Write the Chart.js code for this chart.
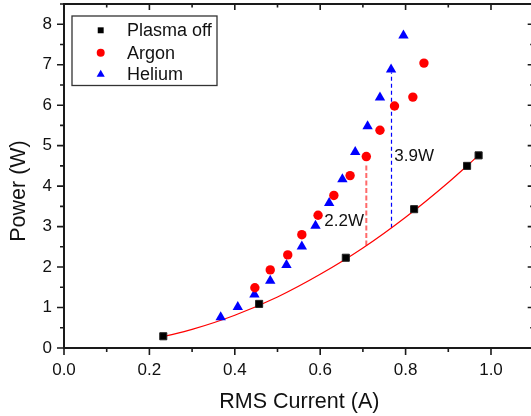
<!DOCTYPE html>
<html>
<head>
<meta charset="utf-8">
<script src="https://cdn.jsdelivr.net/npm/chart.js@4/dist/chart.umd.min.js"></script>
<style>
  html, body { margin: 0; padding: 0; background: #fff; }
  #wrap { width: 531px; height: 416px; }
</style>
</head>
<body>
<div id="wrap"><canvas id="c" width="531" height="416"></canvas></div>
<script>
// Measured power vs RMS current
const currentOff = [0.2325, 0.457, 0.660, 0.820, 0.944, 0.971];
const powerOff   = [0.29, 1.09, 2.23, 3.43, 4.50, 4.76];

const currentAr = [0.447, 0.483, 0.524, 0.557, 0.595, 0.632, 0.670, 0.708, 0.740, 0.774, 0.817, 0.843];
const powerAr   = [1.49, 1.93, 2.30, 2.80, 3.28, 3.77, 4.26, 4.73, 5.38, 5.98, 6.20, 7.04];

const currentHe = [0.367, 0.407, 0.446, 0.483, 0.521, 0.557, 0.589, 0.621, 0.652, 0.682, 0.711, 0.740, 0.766, 0.795];
const powerHe   = [0.76, 1.01, 1.32, 1.66, 2.05, 2.51, 3.02, 3.58, 4.17, 4.84, 5.48, 6.19, 6.88, 7.72];

// Fitted curve through the plasma-off points
const fitCurrent = [0.2325, 0.3, 0.4, 0.5, 0.6, 0.7, 0.8, 0.9, 0.971];
const fitPower   = [0.28, 0.46, 0.81, 1.26, 1.82, 2.47, 3.23, 4.09, 4.76];

// Extra power markers (vertical gaps above the fit)
const gapCurrent = [0.708, 0.767];
const gapLow     = [2.53, 2.97];
const gapHigh    = [4.53, 6.81];
const gapText    = ['2.2W', '3.9W'];

const xTitle = 'RMS Current (A)';
const yTitle = 'Power (W)';

// The x axis runs to 1.1; the visible window stops a little short of it
const X_FRAME_END = 1.1;
const X_VIEW_MAX = 1.0937;

const FONT = "'Liberation Sans', Arial, Helvetica, sans-serif";

const pts = (xs, ys) => xs.map((x, i) => ({ x, y: ys[i] }));

Chart.defaults.font.family = FONT;
Chart.defaults.color = '#000';

// Frame, inward/outward ticks, axis titles
const framePlugin = {
  id: 'frame',
  afterDraw(chart) {
    const { ctx, chartArea: a, scales: { x, y } } = chart;
    const right = x.getPixelForValue(X_FRAME_END);
    ctx.save();
    ctx.strokeStyle = '#1a1a1a';
    ctx.lineWidth = 2;
    ctx.beginPath();
    ctx.moveTo(a.left, a.top); ctx.lineTo(right, a.top);
    ctx.moveTo(a.left, a.bottom); ctx.lineTo(right, a.bottom);
    ctx.moveTo(a.left, a.top - 1); ctx.lineTo(a.left, a.bottom + 1);
    ctx.moveTo(right, a.top - 1); ctx.lineTo(right, a.bottom + 1);
    ctx.stroke();

    ctx.lineWidth = 1.6;
    ctx.beginPath();
    for (let i = 0; i <= Math.round(X_FRAME_END * 10); i++) {
      const px = x.getPixelForValue(i / 10);
      const major = i % 2 === 0;
      const outL = major ? 7 : 4, inL = major ? 6 : 3.5;
      ctx.moveTo(px, a.bottom); ctx.lineTo(px, a.bottom + outL);
      ctx.moveTo(px, a.top); ctx.lineTo(px, a.top + inL);
    }
    y.ticks.forEach(t => {
      const py = y.getPixelForValue(t.value);
      const major = Number.isInteger(t.value);
      const outL = major ? 7 : 4, inL = major ? 6 : 3.5;
      ctx.moveTo(a.left, py); ctx.lineTo(a.left - outL, py);
      ctx.moveTo(right, py); ctx.lineTo(right - inL, py);
    });
    ctx.stroke();

    ctx.fillStyle = '#111';
    ctx.font = '21.5px ' + FONT;
    ctx.textAlign = 'center';
    ctx.textBaseline = 'alphabetic';
    ctx.fillText(xTitle, (a.left + right) / 2 + 0.5, 407.5);
    ctx.translate(25, 191);
    ctx.rotate(-Math.PI / 2);
    ctx.fillText(yTitle, 0, 0);
    ctx.restore();
  }
};

// Labels for the gap markers
const gapLabelPlugin = {
  id: 'gapLabels',
  afterDatasetsDraw(chart, args, opts) {
    const { ctx, scales: { x, y } } = chart;
    ctx.save();
    ctx.fillStyle = '#111';
    ctx.font = '17px ' + FONT;
    ctx.textAlign = 'left';
    ctx.textBaseline = 'middle';
    opts.anchors.forEach((p, i) => {
      ctx.fillText(gapText[i], x.getPixelForValue(p.x), y.getPixelForValue(p.y));
    });
    ctx.restore();
  }
};

// Boxed legend inside the plot
const boxLegendPlugin = {
  id: 'boxLegend',
  afterDraw(chart, args, opts) {
    const { ctx } = chart;
    const b = opts.box;
    ctx.save();
    ctx.fillStyle = '#fff';
    ctx.fillRect(b.x, b.y, b.w, b.h);
    ctx.strokeStyle = '#333';
    ctx.lineWidth = 1.3;
    ctx.strokeRect(b.x, b.y, b.w, b.h);
    opts.items.forEach((it, i) => {
      const ds = chart.data.datasets[it.dataset];
      const cy = opts.rows[i];
      ctx.fillStyle = ds.backgroundColor;
      ctx.strokeStyle = ds.borderColor;
      Chart.helpers.drawPoint(ctx, { pointStyle: ds.pointStyle, radius: it.radius, borderWidth: 0, rotation: 0 }, opts.markerX, cy);
      ctx.fillStyle = '#111';
      ctx.font = '18px ' + FONT;
      ctx.textAlign = 'left';
      ctx.textBaseline = 'middle';
      ctx.fillText(ds.label, opts.textX, cy + 1);
    });
    ctx.restore();
  }
};

const datasets = [
  {
    label: 'Plasma off', data: pts(currentOff, powerOff),
    pointStyle: 'rect', pointRadius: 5, pointBorderWidth: 1,
    backgroundColor: '#000', borderColor: '#222', order: 1
  },
  {
    label: 'Argon', data: pts(currentAr, powerAr),
    pointStyle: 'circle', pointRadius: 4.7, pointBorderWidth: 0,
    backgroundColor: '#ff0000', borderColor: '#ff0000', order: 2
  },
  {
    label: 'Helium', data: pts(currentHe, powerHe),
    pointStyle: 'triangle', pointRadius: 6, pointBorderWidth: 0,
    backgroundColor: '#0000ff', borderColor: '#0000ff', order: 3
  },
  {
    label: 'fit', data: pts(fitCurrent, fitPower), showLine: true,
    borderColor: '#ff0000', borderWidth: 1.2, pointRadius: 0,
    cubicInterpolationMode: 'monotone', order: 4
  },
  {
    label: 'gapAr', data: [{ x: gapCurrent[0], y: gapLow[0] }, { x: gapCurrent[0], y: gapHigh[0] }],
    showLine: true, borderColor: '#ff6a6a', borderWidth: 2, borderDash: [5, 2.5],
    pointRadius: 0, order: 5
  },
  {
    label: 'gapHe', data: [{ x: gapCurrent[1], y: gapLow[1] }, { x: gapCurrent[1], y: gapHigh[1] }],
    showLine: true, borderColor: '#0000ff', borderWidth: 1.2, borderDash: [4, 3],
    pointRadius: 0, order: 6
  }
];

new Chart(document.getElementById('c'), {
  type: 'scatter',
  data: { datasets },
  plugins: [framePlugin, gapLabelPlugin, boxLegendPlugin],
  options: {
    responsive: false,
    animation: false,
    devicePixelRatio: 1,
    layout: { autoPadding: false, padding: { left: 0, top: 4, right: 0, bottom: 0 } },
    plugins: {
      legend: { display: false },
      tooltip: { enabled: false },
      gapLabels: { anchors: [{ x: 0.6096, y: 3.14 }, { x: 0.7735, y: 4.73 }] },
      boxLegend: {
        box: { x: 72, y: 16, w: 145, h: 69.5 },
        markerX: 100.7, textX: 127, rows: [30.3, 52.7, 74.5],
        items: [{ dataset: 0, radius: 4.2 }, { dataset: 1, radius: 4 }, { dataset: 2, radius: 4.7 }]
      }
    },
    scales: {
      x: {
        type: 'linear', min: 0, max: X_VIEW_MAX,
        grid: { display: false, drawTicks: false },
        border: { display: false },
        afterFit: s => { s.height = 68; s.paddingRight = 0; s.paddingLeft = 0; },
        ticks: {
          stepSize: 0.1, autoSkip: false, maxRotation: 0, padding: 12, includeBounds: false,
          font: { size: 17 }, color: '#111',
          callback: v => (Math.round(v * 10) % 2 === 0 ? v.toFixed(1) : '')
        }
      },
      y: {
        type: 'linear', min: 0, max: 8.5,
        grid: { display: false, drawTicks: false },
        border: { display: false },
        afterFit: s => { s.width = 64; s.paddingTop = 0; s.paddingBottom = 0; },
        ticks: {
          stepSize: 0.5, autoSkip: false, padding: 12,
          font: { size: 17 }, color: '#111',
          callback: v => (Number.isInteger(v) ? String(v) : '')
        }
      }
    }
  }
});
</script>
</body>
</html>
